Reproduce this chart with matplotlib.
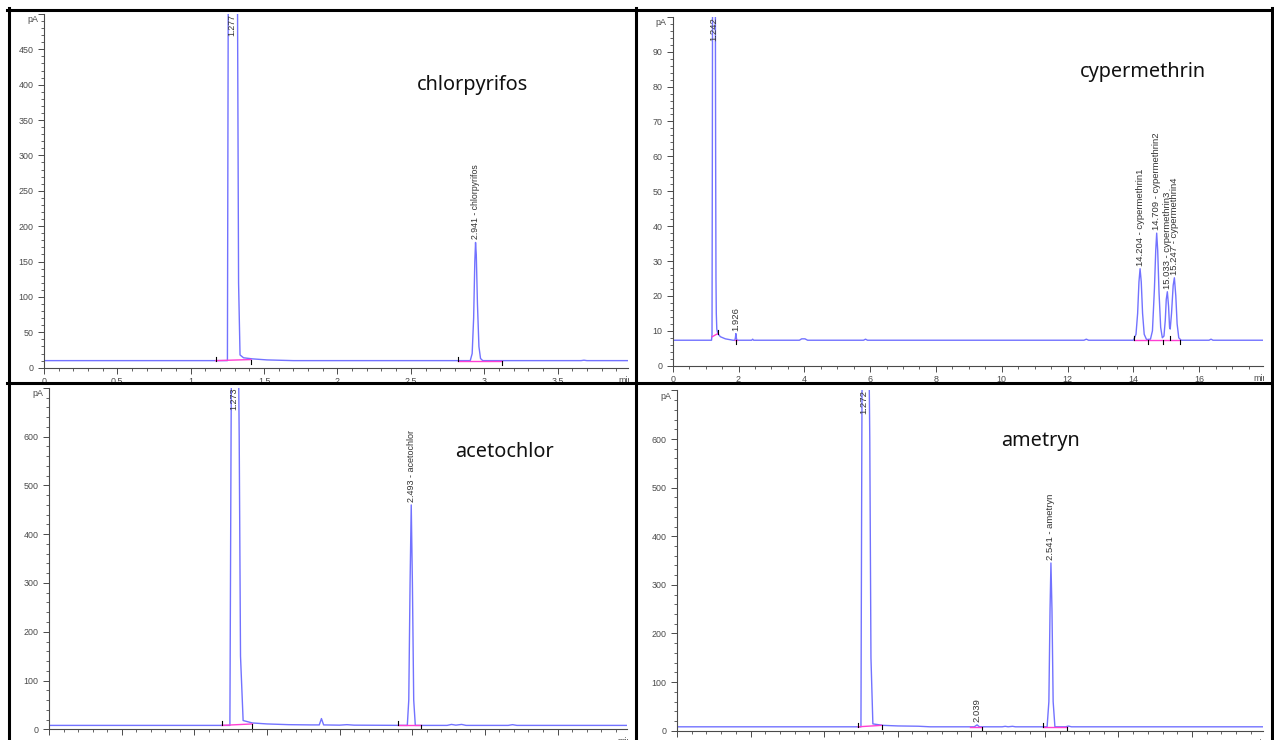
import matplotlib
matplotlib.use("Agg")
import matplotlib.pyplot as plt
from matplotlib.lines import Line2D
from matplotlib.ticker import MultipleLocator, FixedLocator
from matplotlib.transforms import Bbox, TransformedBbox

W, H = 1274, 740

# ---- chromatogram vertices (min, pA) ----
chl_t = [0.0, 1.250, 1.256, 1.277, 1.318, 1.326, 1.336, 1.36, 1.42, 1.52, 1.7,
         2.905, 2.918, 2.928, 2.936, 2.941, 2.946, 2.954, 2.964, 2.975, 2.99,
         3.66, 3.68, 3.70, 3.98]
chl_s = [10, 10, 560, 1500, 560, 120, 18, 14, 12.5, 11, 10,
         10, 20, 70, 150, 177, 160, 90, 30, 13, 10,
         10, 10.6, 10, 10]

cyp_t = [0.0, 1.18, 1.195, 1.205, 1.215, 1.242, 1.29, 1.305, 1.315, 1.325, 1.34,
         1.37, 1.45, 1.6, 1.83, 1.89, 1.905, 1.92, 1.935, 1.95, 2.40, 2.43, 2.46,
         3.85, 3.92, 4.02, 4.10, 5.80, 5.86, 5.92, 12.5, 12.57, 12.64,
         14.0, 14.08, 14.13, 14.17, 14.204, 14.24, 14.28, 14.33, 14.40,
         14.52, 14.58, 14.64, 14.68, 14.709, 14.74, 14.78, 14.83, 14.88,
         14.93, 14.97, 15.00, 15.033, 15.07, 15.10, 15.12, 15.16, 15.21,
         15.247, 15.29, 15.33, 15.38, 15.45, 16.3, 16.36, 16.42, 17.94]
cyp_s = [7.3, 7.3, 9, 60, 140, 250, 140, 60, 25, 15, 10.5,
         9.2, 8.3, 7.7, 7.3, 7.3, 8.0, 9.2, 8.0, 7.3, 7.3, 7.6, 7.3,
         7.3, 7.7, 7.7, 7.3, 7.3, 7.6, 7.3, 7.3, 7.6, 7.3,
         7.3, 9, 15, 24, 27.8, 24, 15, 9, 7.5,
         7.6, 10, 22, 33, 38, 33, 21, 11, 8,
         8.5, 13, 19, 21.2, 17, 11, 10.5, 15, 23,
         25.2, 20, 12, 8, 7.3, 7.3, 7.6, 7.3, 7.3]

ace_t = [0.0, 1.245, 1.253, 1.273, 1.309, 1.318, 1.336, 1.40, 1.50, 1.65, 1.80,
         1.86, 1.875, 1.89, 2.0, 2.05, 2.10, 2.466, 2.476, 2.485, 2.493,
         2.501, 2.51, 2.521, 2.74, 2.77, 2.80, 2.84, 2.87, 3.16, 3.19, 3.22, 3.98]
ace_s = [8, 8, 600, 1800, 600, 150, 18, 13, 11, 9.5, 9,
         9, 22, 9, 8.5, 9.5, 8.5, 8, 60, 300, 460,
         300, 60, 8, 8, 10, 8.5, 10, 8, 8, 9.5, 8, 8]

ame_t = [0.0, 1.25, 1.256, 1.272, 1.31, 1.318, 1.331, 1.40, 1.50, 1.64, 1.72,
         2.02, 2.039, 2.055, 2.21, 2.23, 2.25, 2.28, 2.30, 2.515, 2.527,
         2.535, 2.541, 2.548, 2.556, 2.568, 2.64, 2.66, 2.68, 3.98]
ame_s = [8, 8, 600, 1800, 600, 150, 14, 11, 9.8, 9.2, 8,
         8, 12, 8, 8, 9, 8, 9, 8, 8, 60,
         250, 345, 250, 60, 8, 8, 9.5, 8, 8]

# peak annotations: retention time, label, apex (None = off scale)
chl_rt = [1.277, 2.941]
chl_lab = ["1.277", "2.941 - chlorpyrifos"]
chl_top = [None, 177]

cyp_rt = [1.242, 1.926, 14.204, 14.709, 15.033, 15.247]
cyp_lab = ["1.242", "1.926", "14.204 - cypermethrin1", "14.709 - cypermethrin2",
           "15.033 - cypermethrin3", "15.247 - cypermethrin4"]
cyp_top = [None, 9.2, 27.8, 38, 21.2, 25.2]

ace_rt = [1.273, 2.493]
ace_lab = ["1.273", "2.493 - acetochlor"]
ace_top = [None, 460]

ame_rt = [1.272, 2.039, 2.541]
ame_lab = ["1.272", "2.039", "2.541 - ametryn"]
ame_top = [None, 12, 345]

# integration baselines (t0, y0, t1, y1) and event marks (t, level, +1 up/-1 down)
chl_base = [(1.17, 10, 1.41, 11.5), (2.82, 10, 3.12, 10)]
chl_marks = [(1.17, 10, 1), (1.41, 11.5, -1), (2.82, 10, 1), (3.12, 10, -1)]
cyp_base = [(1.20, 8.3, 1.37, 9.2), (1.89, 7.3, 1.95, 7.3), (14.03, 7.4, 15.42, 7.4)]
cyp_marks = [(1.37, 9.2, 1), (1.93, 7.3, -1), (14.03, 7.4, 1), (14.45, 7.4, -1),
             (14.89, 7.4, -1), (15.12, 7.4, 1), (15.42, 7.4, -1)]
ace_base = [(1.19, 8, 1.40, 11), (2.40, 8, 2.56, 8)]
ace_marks = [(1.19, 8, 1), (1.40, 11, -1), (2.40, 8, 1), (2.56, 8, -1)]
ame_base = [(1.23, 8, 1.39, 11), (1.99, 8, 2.07, 8), (2.49, 8, 2.65, 8)]
ame_marks = [(1.23, 8, 1), (1.39, 11, -1), (2.07, 8, -1), (2.49, 8, 1), (2.65, 8, -1)]

TRACE = "#7272ff"
PINK = "#ff3fd2"
GREY = "#4a4a4a"
TXT = "#333333"

fig = plt.figure(figsize=(W / 100, H / 100), dpi=100)


def frac_box(x0, y0, x1, y1):
    # pixel box (top-left origin) -> clip box in display coords
    return TransformedBbox(Bbox.from_extents(x0 / W, 1 - y1 / H, x1 / W, 1 - y0 / H),
                           fig.transFigure)


def panel(rect, xmax, ymax, ystep, yminor, xstep, xminor, t, s,
          rts, labs, tops, base, marks, clip, lab_fs):
    left, right, y0, ytop = rect
    ax = fig.add_axes([left / W, 1 - y0 / H, (right - left) / W, (y0 - ytop) / H])
    ax.set_xlim(0, xmax)
    ax.set_ylim(0, ymax)
    ax.patch.set_alpha(0)
    for sp in ("top", "right"):
        ax.spines[sp].set_visible(False)
    for sp in ("left", "bottom"):
        ax.spines[sp].set_color(GREY)
        ax.spines[sp].set_linewidth(0.8)

    ax.plot(t, s, color=TRACE, lw=1.0, solid_joinstyle="round")
    for a0, b0, a1, b1 in base:
        ax.plot([a0, a1], [b0, b1], color=PINK, lw=1.0)
    tick = ymax * 4.0 / (y0 - ytop)
    for tm, lv, d in marks:
        ax.plot([tm, tm], [lv, lv + d * tick], color="black", lw=0.8)

    for rt, lab, top in zip(rts, labs, tops):
        if top is None:
            ax.annotate(lab, xy=(rt, ymax), xytext=(0, 0), textcoords="offset pixels",
                        rotation=90, ha="center", va="top", fontsize=lab_fs,
                        family="Liberation Sans", color=TXT, annotation_clip=False)
        else:
            ax.annotate(lab, xy=(rt, top), xytext=(0, 3), textcoords="offset pixels",
                        rotation=90, ha="center", va="bottom", fontsize=lab_fs,
                        family="Liberation Sans", color=TXT, annotation_clip=False)

    yt = [i * ystep for i in range(int(round(ymax / ystep)) + 1)]
    ax.yaxis.set_major_locator(FixedLocator(yt))
    ax.set_yticklabels([f"{v:g}" for v in yt[:-1]] + [""])
    ax.yaxis.set_minor_locator(MultipleLocator(yminor))
    nx = int(xmax / xstep + 1e-9)
    xt = [i * xstep for i in range(nx + 1)]
    ax.xaxis.set_major_locator(FixedLocator(xt))
    ax.set_xticklabels([f"{v:g}" for v in xt])
    ax.xaxis.set_minor_locator(MultipleLocator(xminor))
    ax.tick_params(which="major", length=4, width=0.7, color=GREY, pad=3.5,
                   labelsize=6.4, labelcolor=GREY)
    ax.tick_params(axis="x", which="major", pad=3.0)
    ax.tick_params(which="minor", length=2, width=0.6, color=GREY)
    for lb in ax.get_xticklabels() + ax.get_yticklabels():
        lb.set_family("Liberation Sans")
        lb.set_clip_box(clip)
        lb.set_clip_on(True)
    ax.annotate("pA", xy=(0, 1), xycoords="axes fraction", xytext=(-6, -6),
                textcoords="offset pixels", ha="right", va="center", fontsize=6.4,
                family="Liberation Sans", color=GREY)
    mn = ax.annotate("min", xy=(1, 0), xycoords="axes fraction", xytext=(-10, -8),
                     textcoords="offset pixels", ha="left", va="top", fontsize=6.4,
                     family="Liberation Sans", color=GREY, annotation_clip=False)
    mn.set_clip_box(clip)
    mn.set_clip_on(True)
    return ax


panel((44, 628, 367.7, 13.9), 3.98, 500, 50, 10, 0.5, 0.1, chl_t, chl_s,
      chl_rt, chl_lab, chl_top, chl_base, chl_marks, frac_box(10, 11, 628.5, 382), 6.3)
panel((672.7, 1263, 365.7, 16.8), 17.94, 100, 10, 2, 2, 0.5, cyp_t, cyp_s,
      cyp_rt, cyp_lab, cyp_top, cyp_base, cyp_marks, frac_box(637, 11, 1263.5, 382), 6.8)
panel((49, 627.3, 729.3, 387.9), 3.98, 700, 100, 20, 0.5, 0.1, ace_t, ace_s,
      ace_rt, ace_lab, ace_top, ace_base, ace_marks, frac_box(10, 385, 627.8, 740), 6.5)
panel((677, 1262.7, 730.7, 390.4), 3.98, 700, 100, 20, 0.5, 0.1, ame_t, ame_s,
      ame_rt, ame_lab, ame_top, ame_base, ame_marks, frac_box(637, 385, 1263.2, 740), 6.8)

# compound names
for txt, cx, by in [("chlorpyrifos", 472, 90), ("cypermethrin", 1143, 77),
                    ("acetochlor", 504, 457), ("ametryn", 1041, 446)]:
    fig.text(cx / W, 1 - by / H, txt, ha="center", va="baseline", fontsize=14.3,
             family="Noto Sans", color="#111111")

# table borders
bw = 2.2
for xs, ys in [((7, 1273), (9.5, 9.5)), ((7, 1273), (383, 383)),
               ((8.5, 8.5), (8, 740)), ((635.5, 635.5), (8, 740)),
               ((1271.5, 1271.5), (8, 740))]:
    fig.add_artist(Line2D([x / W for x in xs], [1 - y / H for y in ys],
                          color="black", lw=bw, transform=fig.transFigure))

fig.savefig("out.png", dpi=100)
